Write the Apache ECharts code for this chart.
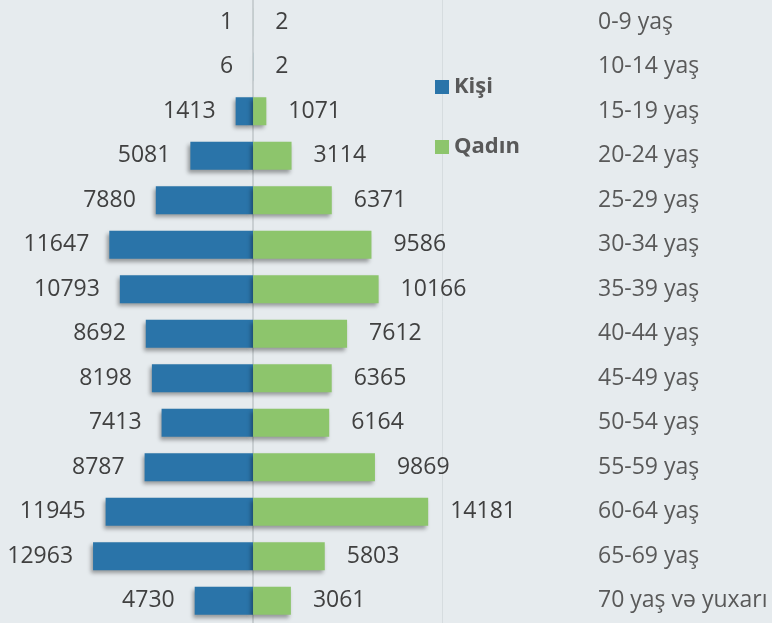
<!DOCTYPE html>
<html>
<head>
<meta charset="utf-8">
<script src="https://cdn.jsdelivr.net/npm/echarts@6/dist/echarts.min.js"></script>
<style>
  html, body { margin: 0; padding: 0; background: #e6ebee; }
  #main { width: 772px; height: 623px; }
</style>
</head>
<body>
<div id="main"></div>
<script>
var ageGroups = ["0-9 yaş", "10-14 yaş", "15-19 yaş", "20-24 yaş", "25-29 yaş", "30-34 yaş", "35-39 yaş",
  "40-44 yaş", "45-49 yaş", "50-54 yaş", "55-59 yaş", "60-64 yaş", "65-69 yaş", "70 yaş və yuxarı"];
var kisi = [1, 6, 1413, 5081, 7880, 11647, 10793, 8692, 8198, 7413, 8787, 11945, 12963, 4730];
var qadin = [2, 2, 1071, 3114, 6371, 9586, 10166, 7612, 6365, 6164, 9869, 14181, 5803, 3061];

var chart = echarts.init(document.getElementById('main'));

// bar shadow like the original
var shade = {
  shadowBlur: 4,
  shadowOffsetX: -2,
  shadowOffsetY: 3,
  shadowColor: 'rgba(0,0,0,0.35)'
};

var option = {
  backgroundColor: '#e6ebee',
  textStyle: { fontFamily: 'Open Sans' },
  legend: {
    orient: 'vertical',
    left: 430,
    top: 71,
    itemGap: 38,
    itemWidth: 14,
    itemHeight: 14,
    icon: 'rect',
    textStyle: { fontSize: 22, fontWeight: 'bold', color: '#595959', fontFamily: 'Open Sans' },
    data: ['Kişi', 'Qadın']
  },
  grid: { left: 0, width: 442, top: -3, bottom: -2 },
  xAxis: {
    type: 'value',
    min: -20500,
    max: 15300,
    show: false
  },
  yAxis: [
    {
      type: 'category',
      data: ageGroups,
      inverse: true,
      position: 'right',
      axisLine: { onZero: false, lineStyle: { color: '#d6dcdf', width: 1 } },
      axisTick: { show: false },
      axisLabel: { align: 'left', margin: 156, fontSize: 23, color: '#595959', fontFamily: 'Open Sans' }
    },
    {
      // centre line at zero
      type: 'category',
      data: ageGroups,
      inverse: true,
      axisLine: { onZero: true, lineStyle: { color: '#c9cfd2', width: 2 } },
      axisTick: { show: false },
      axisLabel: { show: false }
    }
  ],
  series: [
    {
      name: 'Kişi',
      type: 'bar',
      stack: 'pop',
      barWidth: 28,
      data: kisi.map(function (v) { return -v; }),
      itemStyle: Object.assign({ color: '#2a74a9' }, shade),
      label: {
        show: true,
        position: 'left',
        distance: 20,
        fontSize: 23,
        color: '#404040',
        fontFamily: 'Open Sans',
        formatter: function (p) { return Math.abs(p.value); }
      }
    },
    {
      name: 'Qadın',
      type: 'bar',
      stack: 'pop',
      barWidth: 28,
      data: qadin,
      itemStyle: Object.assign({ color: '#8dc56c' }, shade),
      label: {
        show: true,
        position: 'right',
        distance: 22,
        fontSize: 23,
        color: '#404040',
        fontFamily: 'Open Sans'
      }
    }
  ]
};

chart.setOption(option);
</script>
</body>
</html>
